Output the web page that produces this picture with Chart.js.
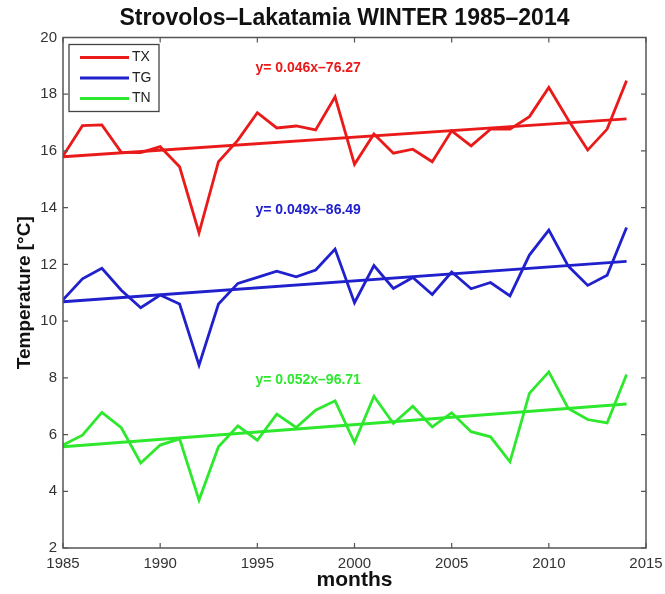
<!DOCTYPE html>
<html>
<head>
<meta charset="utf-8">
<script src="https://cdn.jsdelivr.net/npm/chart.js@4.4.1/dist/chart.umd.min.js"></script>
<style>
  html, body { margin: 0; padding: 0; background: #ffffff; }
  #wrap { width: 665px; height: 594px; position: relative; }
</style>
</head>
<body>
<div id="wrap"><canvas id="chart" width="665" height="594"></canvas></div>
<script>
// Winter mean temperatures at Strovolos-Lakatamia, 1985-2014 (°C)
const years = [1985, 1986, 1987, 1988, 1989, 1990, 1991, 1992, 1993, 1994,
               1995, 1996, 1997, 1998, 1999, 2000, 2001, 2002, 2003, 2004,
               2005, 2006, 2007, 2008, 2009, 2010, 2011, 2012, 2013, 2014];

// maximum temperature
const tx = [15.82, 16.89, 16.92, 15.95, 15.94, 16.15, 15.44, 13.11, 15.62, 16.38,
            17.35, 16.81, 16.88, 16.74, 17.91, 15.53, 16.60, 15.92, 16.06, 15.62,
            16.71, 16.18, 16.77, 16.77, 17.21, 18.24, 17.09, 16.03, 16.77, 18.48];
// mean temperature
const tg = [10.75, 11.49, 11.86, 11.09, 10.47, 10.92, 10.60, 8.45, 10.60, 11.33,
            11.54, 11.76, 11.56, 11.80, 12.54, 10.65, 11.96, 11.15, 11.54, 10.94,
            11.73, 11.14, 11.36, 10.89, 12.33, 13.21, 11.94, 11.26, 11.62, 13.30];
// minimum temperature
const tn = [5.63, 5.98, 6.78, 6.24, 5.00, 5.63, 5.85, 3.69, 5.57, 6.31,
            5.80, 6.72, 6.25, 6.86, 7.19, 5.72, 7.35, 6.39, 7.00, 6.27,
            6.77, 6.10, 5.92, 5.04, 7.45, 8.21, 6.92, 6.53, 6.41, 8.12];

const seriesNames  = ['TX', 'TG', 'TN'];
const seriesColors = ['#ea1a1a', '#2020cc', '#2de82d'];

// linear trend coefficients (°C per year, intercept)
const fitSlopes     = [0.046, 0.049, 0.052];
const fitIntercepts = [-76.27, -86.49, -96.71];

const xTickValues = [1985, 1990, 1995, 2000, 2005, 2010, 2015];
const yTickValues = [2, 4, 6, 8, 10, 12, 14, 16, 18, 20];

const chartTitle = 'Strovolos\u2013Lakatamia WINTER 1985\u20132014';

const FONT = "'Liberation Sans', Arial, Helvetica, sans-serif";

const allSeries = [tx, tg, tn];

function mean(a) { return a.reduce((s, v) => s + v, 0) / a.length; }

// trend line through the centroid of each series with the stated slope
function trendPoints(values, slope) {
  const my = mean(values), mx = mean(years);
  const x0 = years[0], x1 = years[years.length - 1];
  return [
    { x: x0, y: my + slope * (x0 - mx) },
    { x: x1, y: my + slope * (x1 - mx) }
  ];
}

function fitText(i) {
  const b = fitIntercepts[i];
  return 'y= ' + fitSlopes[i].toFixed(3) + 'x' + (b < 0 ? '\u2013' : '+') + Math.abs(b).toFixed(2);
}

const datasets = [];
allSeries.forEach((vals, i) => {
  datasets.push({
    label: seriesNames[i],
    data: years.map((y, k) => ({ x: y, y: vals[k] })),
    borderColor: seriesColors[i],
    borderWidth: 2.8,
    pointRadius: 0,
    tension: 0,
    fill: false
  });
});
allSeries.forEach((vals, i) => {
  datasets.push({
    label: seriesNames[i] + ' trend',
    data: trendPoints(vals, fitSlopes[i]),
    borderColor: seriesColors[i],
    borderWidth: 2.8,
    pointRadius: 0,
    tension: 0,
    fill: false
  });
});

// box frame with inward tick marks on all four sides, plus the title
const framePlugin = {
  id: 'frame',
  afterDraw(chart) {
    const { ctx, chartArea: a, scales: { x, y } } = chart;
    ctx.save();
    ctx.strokeStyle = '#555555';
    ctx.lineWidth = 1.5;
    ctx.strokeRect(a.left, a.top, a.right - a.left, a.bottom - a.top);
    ctx.lineWidth = 1.2;
    const len = 5;
    ctx.beginPath();
    xTickValues.forEach(v => {
      const px = x.getPixelForValue(v);
      ctx.moveTo(px, a.bottom); ctx.lineTo(px, a.bottom - len);
      ctx.moveTo(px, a.top); ctx.lineTo(px, a.top + len);
    });
    yTickValues.forEach(v => {
      const py = y.getPixelForValue(v);
      ctx.moveTo(a.left, py); ctx.lineTo(a.left + len, py);
      ctx.moveTo(a.right, py); ctx.lineTo(a.right - len, py);
    });
    ctx.stroke();

    ctx.fillStyle = '#111111';
    ctx.font = 'bold 23px ' + FONT;
    ctx.textAlign = 'center';
    ctx.textBaseline = 'middle';
    ctx.fillText(chartTitle, (a.left + a.right) / 2 - 10, a.top - 19);
    ctx.restore();
  }
};

// legend box in the upper-left corner and the trend equations
const notesPlugin = {
  id: 'notes',
  afterDraw(chart) {
    const { ctx, chartArea: a, scales: { x, y } } = chart;
    ctx.save();
    // legend
    const bx = a.left + 6, by = a.top + 7, bw = 90, bh = 67;
    ctx.fillStyle = '#ffffff';
    ctx.fillRect(bx, by, bw, bh);
    ctx.strokeStyle = '#444444';
    ctx.lineWidth = 1.3;
    ctx.strokeRect(bx, by, bw, bh);
    ctx.font = '14px ' + FONT;
    ctx.textBaseline = 'middle';
    ctx.textAlign = 'left';
    seriesNames.forEach((name, i) => {
      const ly = by + 13 + i * 20.5;
      ctx.strokeStyle = seriesColors[i];
      ctx.lineWidth = 2.8;
      ctx.beginPath();
      ctx.moveTo(bx + 11, ly);
      ctx.lineTo(bx + 60, ly);
      ctx.stroke();
      ctx.fillStyle = '#222222';
      ctx.fillText(name, bx + 63, ly);
    });
    // equations
    const eqY = [18.92, 13.92, 7.92];
    ctx.font = 'bold 14px ' + FONT;
    seriesNames.forEach((name, i) => {
      ctx.fillStyle = seriesColors[i];
      ctx.fillText(fitText(i), x.getPixelForValue(1994.9), y.getPixelForValue(eqY[i]));
    });
    ctx.restore();
  }
};

new Chart(document.getElementById('chart'), {
  type: 'line',
  data: { datasets },
  options: {
    responsive: false,
    animation: false,
    events: [],
    layout: { padding: { left: 0, right: 19, top: 37.5, bottom: 0 } },
    plugins: {
      legend: { display: false },
      tooltip: { enabled: false },
      title: { display: false }
    },
    scales: {
      x: {
        type: 'linear',
        min: 1985,
        max: 2015,
        afterBuildTicks(scale) { scale.ticks = xTickValues.map(v => ({ value: v })); },
        afterFit(scale) {
          scale.height = 46;
          scale.paddingLeft = 0;
          scale.paddingRight = 0;
        },
        grid: { display: false, drawTicks: false },
        border: { display: false },
        ticks: {
          color: '#333333',
          padding: 7,
          maxRotation: 0,
          autoSkip: false,
          font: { family: FONT, size: 15 },
          callback: v => String(v)
        },
        title: {
          display: true,
          text: 'months',
          color: '#111111',
          font: { family: FONT, size: 21, weight: 'bold', lineHeight: 1.2 },
          padding: { top: 0, bottom: 1 }
        }
      },
      y: {
        type: 'linear',
        min: 2,
        max: 20,
        afterBuildTicks(scale) { scale.ticks = yTickValues.map(v => ({ value: v })); },
        afterFit(scale) {
          scale.width = 63;
          scale.paddingTop = 0;
          scale.paddingBottom = 0;
        },
        grid: { display: false, drawTicks: false },
        border: { display: false },
        ticks: {
          color: '#333333',
          padding: 6,
          autoSkip: false,
          font: { family: FONT, size: 15 },
          callback: v => String(v)
        },
        title: {
          display: true,
          text: 'Temperature [\u00B0C]',
          color: '#111111',
          font: { family: FONT, size: 19, weight: 'bold', lineHeight: 1.2 },
          padding: { top: 13, bottom: 0 }
        }
      }
    }
  },
  plugins: [framePlugin, notesPlugin]
});
</script>
</body>
</html>
